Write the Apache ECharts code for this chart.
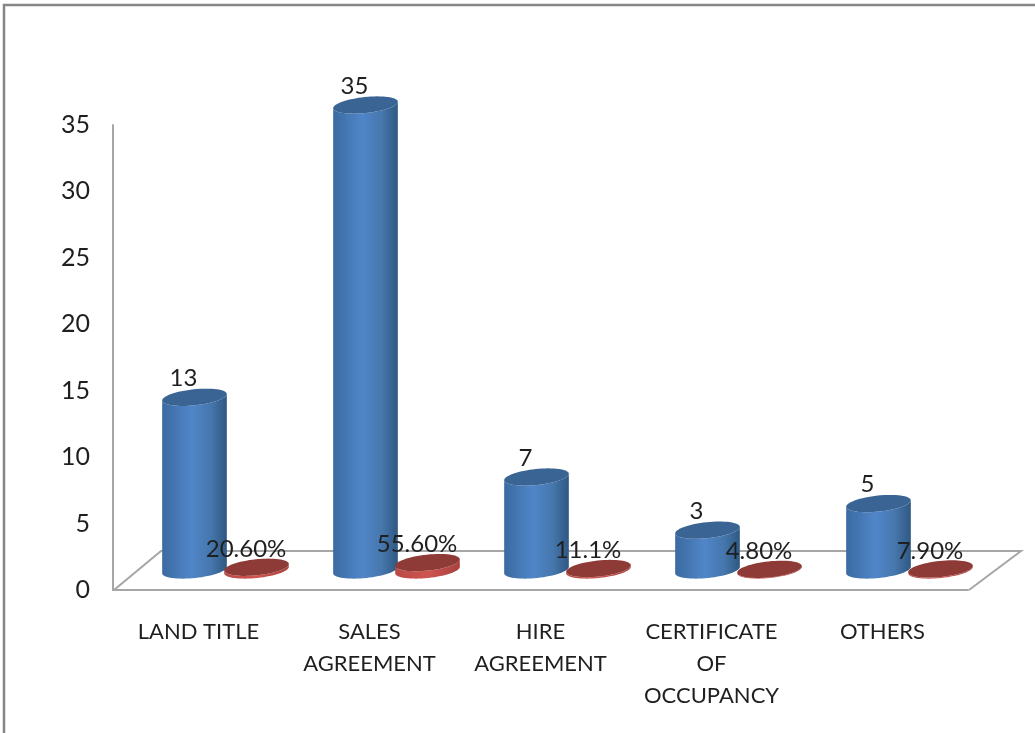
<!DOCTYPE html>
<html><head><meta charset="utf-8">
<style>html,body{margin:0;padding:0;background:#fff}#c{width:1035px;height:733px}</style>
<script src="https://cdn.jsdelivr.net/npm/echarts@6/dist/echarts.min.js"></script>
</head><body><div id="c"></div>
<script>
var categories = ['LAND TITLE','SALES\nAGREEMENT','HIRE\nAGREEMENT','CERTIFICATE\nOF\nOCCUPANCY','OTHERS'];
var countValues = [13,35,7,3,5];
var shareValues = [0.206,0.556,0.111,0.048,0.079];
var shareLabels = ['20.60%','55.60%','11.1%','4.80%','7.90%'];

var RX=32.5, RY=8, TILT=0.105, BASE_LIFT=20;
function ell(cx,cy,t){
  var a=RX*Math.cos(t), b=RY*Math.sin(t);
  return [cx+a*Math.cos(TILT)+b*Math.sin(TILT), cy-a*Math.sin(TILT)+b*Math.cos(TILT)];
}
function bodyPts(cx,topY,baseY){
  var pts=[], i;
  for(i=0;i<=32;i++){ pts.push(ell(cx,baseY,Math.PI-Math.PI*i/32)); }
  for(i=0;i<=32;i++){ pts.push(ell(cx,topY,Math.PI*i/32)); }
  return pts;
}
function topPts(cx,cy){
  var pts=[];
  for(var i=0;i<64;i++){ pts.push(ell(cx,cy,2*Math.PI*i/64)); }
  return pts;
}
function cyl(dx,sideStops,topColor,labelOf,labelDx,labelDy){
  return function(params,api){
    var p=api.coord([api.value(0),api.value(1)]);
    var z=api.coord([api.value(0),0]);
    var cx=p[0]+dx, base=z[1]-BASE_LIFT, top=p[1]-BASE_LIFT;
    return {type:'group',children:[
      {type:'polygon',shape:{points:bodyPts(cx,top,base)},
       style:{fill:new echarts.graphic.LinearGradient(0,0,1,0,sideStops)}},
      {type:'polygon',shape:{points:topPts(cx,top)},style:{fill:topColor}},
      {type:'text',z2:10,style:{text:labelOf(params.dataIndex),x:cx+labelDx,y:top+labelDy,
        align:'center',verticalAlign:'middle',
        font:'24px Lato, Carlito, sans-serif',fill:'#1f1f1f'}}
    ]};
  };
}
var blueStops=[{offset:0,color:'#3a6aa0'},{offset:0.45,color:'#5086c9'},{offset:0.75,color:'#4677ad'},{offset:1,color:'#2f5883'}];
var redStops=[{offset:0,color:'#b84a46'},{offset:0.5,color:'#cf5450'},{offset:1,color:'#a8423f'}];

var chart=echarts.init(document.getElementById('c'),null,{renderer:'canvas'});
chart.setOption({
  animation:false,
  backgroundColor:'#fff',
  grid:{left:113,top:125,width:855,height:465,containLabel:false},
  graphic:[
    {type:'polyline',z:0,silent:true,shape:{points:[[114,590],[161,551],[1021,551],[969,590]]},
     style:{stroke:'#a6a6a6',lineWidth:2,fill:'none'}},
    {type:'polyline',z:0,silent:true,shape:{points:[[4,733],[4,5],[1035,5]]},
     style:{stroke:'#868686',lineWidth:2.5,fill:'none'}}
  ],
  xAxis:{type:'category',data:categories,
    axisLine:{show:true,lineStyle:{color:'#a6a6a6',width:2}},
    axisTick:{show:false},splitLine:{show:false},
    axisLabel:{interval:0,margin:26,lineHeight:32,fontSize:22,color:'#1f1f1f',fontFamily:'Lato, Carlito, sans-serif',hideOverlap:false}},
  yAxis:{type:'value',min:0,max:35,interval:5,
    axisLine:{show:true,lineStyle:{color:'#a6a6a6',width:2}},
    axisTick:{show:false},splitLine:{show:false},
    axisLabel:{margin:23,fontSize:25,color:'#1f1f1f',fontFamily:'Lato, Carlito, sans-serif'}},
  series:[
    {type:'custom',name:'Count',data:categories.map(function(c,i){return [i,countValues[i]];}),
     encode:{x:0,y:1},clip:false,z:3,
     renderItem:cyl(-4,blueStops,'#3a6494',function(i){return String(countValues[i]);},-11,-19)},
    {type:'custom',name:'Share',data:categories.map(function(c,i){return [i,shareValues[i]];}),
     encode:{x:0,y:1},clip:false,z:4,
     renderItem:cyl(58,redStops,'#8e3a36',function(i){return shareLabels[i];},-10.5,-18)}
  ]
});
</script></body></html>
